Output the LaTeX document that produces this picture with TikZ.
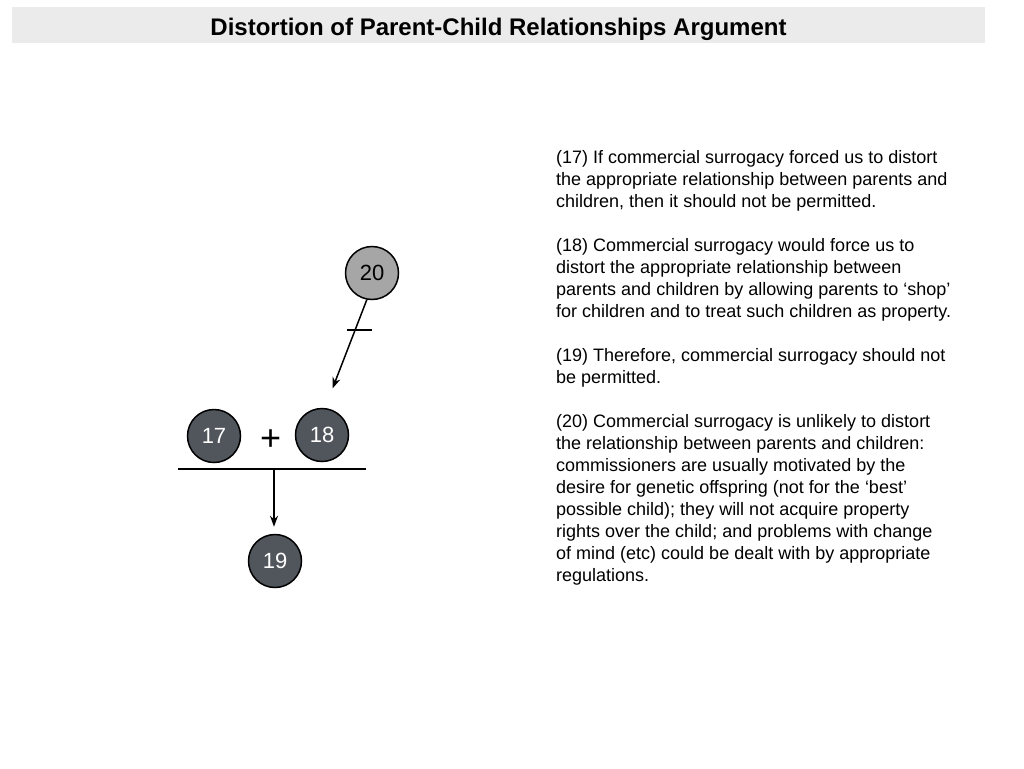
\documentclass[tikz,border=0pt]{standalone}
\usepackage{fontspec}
\setmainfont{Liberation Sans}
\usetikzlibrary{arrows.meta}
\definecolor{titlebg}{HTML}{EBEBEB}
\definecolor{darknode}{HTML}{51565C}
\definecolor{lightnode}{HTML}{A6A6A6}
\begin{document}
\begin{tikzpicture}[x=1pt,y=-1pt,
  claim/.style={circle,draw=black,line width=1.5pt,minimum size=53pt,inner sep=0pt,font=\fontsize{22}{22}\selectfont},
  darkclaim/.style={claim,fill=darknode,text=white},
  objclaim/.style={claim,fill=lightnode,text=black},
  link/.style={line width=1.5pt,-{Stealth[length=11pt,width=8pt]}},
  para/.style={anchor=north west,align=left,inner sep=0pt,font=\fontsize{18}{22}\selectfont}]
\useasboundingbox (0,0) rectangle (1024,768);
\node[fill=titlebg,minimum width=973pt,minimum height=36pt,inner sep=0pt,anchor=north west] (titlebar) at (12,7) {};
\node[font=\bfseries\fontsize{24}{24}\selectfont,inner sep=0pt] (title) at (498.5,29) {Distortion of Parent-Child Relationships Argument};
\node[objclaim] (n20) at (372,273) {20};
\node[darkclaim] (n17) at (214,436) {17};
\node[darkclaim] (n18) at (322,435) {18};
\node[darkclaim] (n19) at (275,561) {19};
\node[font=\fontsize{36}{36}\selectfont,inner sep=0pt] (plus) at (270.7,440) {+};
\coordinate (barL) at (178,469);
\coordinate (barR) at (366,469);
\coordinate (barM) at (274,469);
\coordinate (tgt) at (332.5,388.5);
\coordinate (tickL) at (347,330);
\coordinate (tickR) at (372,330);
\draw[line width=1.5pt] (barL) -- (barR);
\draw[link,shorten >=7pt] (barM) -- (barM |- n19.north);
\draw[link] (n20.-101) -- (tgt);
\draw[line width=1.5pt] (tickL) -- (tickR);
\node[para] (p17) at (556,150) {(17) If commercial surrogacy forced us to distort\\the appropriate relationship between parents and\\children, then it should not be permitted.};
\node[para] (p18) at (556,238) {(18) Commercial surrogacy would force us to\\distort the appropriate relationship between\\parents and children by allowing parents to ‘shop’\\for children and to treat such children as property.};
\node[para] (p19) at (556,348) {(19) Therefore, commercial surrogacy should not\\be permitted.};
\node[para] (p20) at (556,414) {(20) Commercial surrogacy is unlikely to distort\\the relationship between parents and children:\\commissioners are usually motivated by the\\desire for genetic offspring (not for the ‘best’\\possible child); they will not acquire property\\rights over the child; and problems with change\\of mind (etc) could be dealt with by appropriate\\regulations.};
\end{tikzpicture}
\end{document}
